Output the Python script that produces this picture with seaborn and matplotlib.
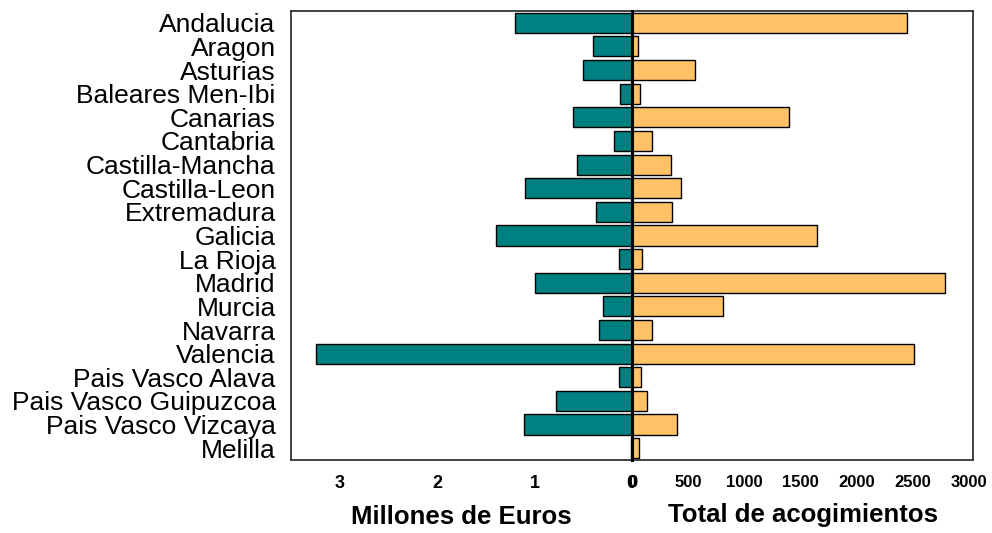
import pandas as pd
import matplotlib
matplotlib.use("Agg")
import matplotlib.pyplot as plt
import matplotlib.transforms as mtransforms
import seaborn as sns

# regiones y valores
regiones = ['Andalucia', 'Aragon', 'Asturias', 'Baleares Men-Ibi', 'Canarias',
            'Cantabria', 'Castilla-Mancha', 'Castilla-Leon', 'Extremadura',
            'Galicia', 'La Rioja', 'Madrid', 'Murcia', 'Navarra', 'Valencia',
            'Pais Vasco Alava', 'Pais Vasco Guipuzcoa', 'Pais Vasco Vizcaya',
            'Melilla']
millones_euros = [1.20, 0.40, 0.50, 0.12, 0.61, 0.18, 0.56, 1.10, 0.37, 1.40,
                  0.13, 1.00, 0.30, 0.34, 3.24, 0.13, 0.78, 1.11, 0.01]
acogimientos = [2444, 56, 563, 74, 1400, 175, 350, 436, 356, 1646,
                92, 2788, 807, 181, 2506, 83, 133, 397, 59]

ticks_euros = [3, 2, 1, 0]
ticks_acog = [0, 500, 1000, 1500, 2000, 2500, 3000]

df = pd.DataFrame({'Region': regiones,
                   'Euros': millones_euros,
                   'Acogimientos': acogimientos})

sns.set_theme(style='white')
plt.rcParams['font.family'] = ['Liberation Sans', 'DejaVu Sans']
plt.rcParams['text.color'] = 'black'
plt.rcParams['axes.labelcolor'] = 'black'
plt.rcParams['xtick.color'] = 'black'
plt.rcParams['ytick.color'] = 'black'

fig = plt.figure(figsize=(9.92, 5.33), dpi=100)
ax_izq = fig.add_axes([0.2933, 0.137, 0.3438, 0.8424])
ax_der = fig.add_axes([0.6371, 0.137, 0.3438, 0.8424])

teal = '#008080'
naranja = '#FFC266'

sns.barplot(data=df, x='Euros', y='Region', ax=ax_izq, color=teal,
            edgecolor='black', linewidth=1, width=0.85, errorbar=None,
            saturation=1)
sns.barplot(data=df, x='Acogimientos', y='Region', ax=ax_der, color=naranja,
            edgecolor='black', linewidth=1, width=0.85, errorbar=None,
            saturation=1)

# panel izquierdo: eje invertido
ax_izq.set_xlim(3.5, 0)
ax_izq.set_xticks(ticks_euros)
ax_izq.set_xticklabels([str(t) for t in ticks_euros], fontweight='bold', fontsize=13)
ax_izq.set_xlabel('Millones de Euros', fontweight='bold', fontsize=18.5, labelpad=9)
ax_izq.set_ylabel('')
ax_izq.tick_params(axis='y', length=0, pad=11, labelsize=19)
ax_izq.tick_params(axis='x', length=0, pad=11)

ax_der.set_xlim(0, 3034)
ax_der.set_xticks(ticks_acog)
ax_der.set_xticklabels([str(t) for t in ticks_acog], fontweight='bold', fontsize=12)
ax_der.set_xlabel('Total de acogimientos', fontweight='bold', fontsize=18.5, labelpad=9)
ax_der.set_ylabel('')
ax_der.set_yticks([])
ax_der.tick_params(axis='x', length=0, pad=11)

# los dos ceros del centro casi superpuestos, como en el original
izq_cero = ax_izq.get_xticklabels()[-1]
izq_cero.set_transform(izq_cero.get_transform() + mtransforms.ScaledTranslation(-1 / 100, 0, fig.dpi_scale_trans))
der_cero = ax_der.get_xticklabels()[0]
der_cero.set_transform(der_cero.get_transform() + mtransforms.ScaledTranslation(1 / 100, 0, fig.dpi_scale_trans))

for ax in (ax_izq, ax_der):
    ax.set_ylim(18.5, -0.5)
    for s in ax.spines.values():
        s.set_color('#333333')
        s.set_linewidth(1.3)

ax_izq.spines['right'].set_visible(False)
ax_der.spines['left'].set_color('black')
ax_der.spines['left'].set_linewidth(2.2)
ax_der.spines['left'].set_zorder(5)

fig.savefig('out.png', dpi=100)
